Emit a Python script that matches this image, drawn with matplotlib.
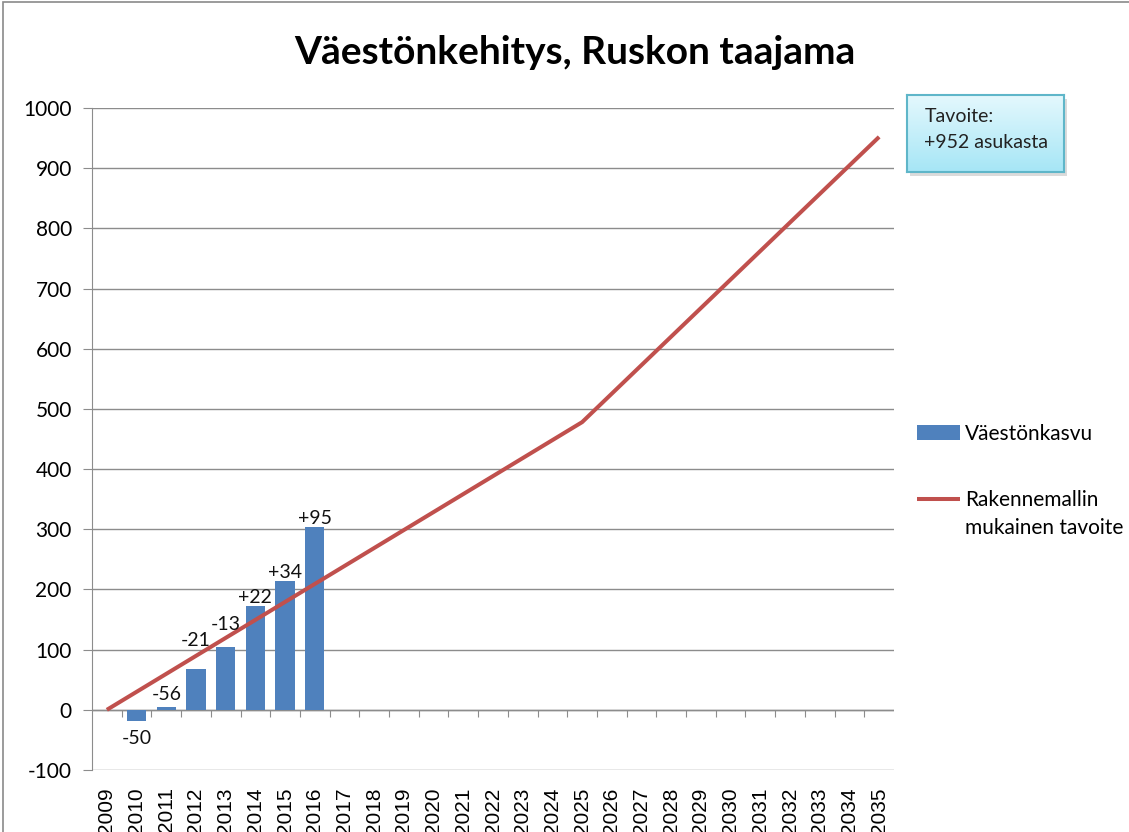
import numpy as np
import matplotlib
matplotlib.use("Agg")
import matplotlib.pyplot as plt
from matplotlib.patches import Rectangle
from matplotlib.colors import LinearSegmentedColormap

plt.rcParams['font.family'] = ['Lato', 'DejaVu Sans']

# ---------------- data ----------------
years = [str(y) for y in range(2009, 2036)]
bar_years = ['2010', '2011', '2012', '2013', '2014', '2015', '2016']
bar_values = [-18, 5, 68, 105, 172, 214, 304]
bar_labels = ['-50', '-56', '-21', '-13', '+22', '+34', '+95']
target_years = ['2009', '2025', '2035']
target_values = [0, 478, 952]
yticks = list(range(-100, 1001, 100))

title = 'Väestönkehitys, Ruskon taajama'
bar_name = 'Väestönkasvu'
line_name = 'Rakennemallin\nmukainen tavoite'
box_text = 'Tavoite:\n+952 asukasta'

# label offsets in points (layout only)
label_offsets = [-7, 3, 14, 10, 0, 0, 0]

W, H = 1129, 832
fig = plt.figure(figsize=(W / 100, H / 100), dpi=100)
fig.patch.set_facecolor('white')

# outer chart border
fig.patches.append(Rectangle((3 / W, -0.2), 2, 1.2 - 2 / H, transform=fig.transFigure,
                             fill=False, edgecolor='#8a8a8a', linewidth=1.2))

ax = fig.add_axes([92 / W, (H - 770) / H, (894 - 92) / W, (770 - 108) / H])
xpos = {y: i for i, y in enumerate(years)}

bx = [xpos[y] for y in bar_years]
bars = ax.bar(bx, bar_values, width=0.65, color='#4f81bd', zorder=3, label=bar_name)
lx = [xpos[y] for y in target_years]
line, = ax.plot(lx, target_values, color='#c0504d', linewidth=2.9, zorder=4, label=line_name,
                solid_capstyle='butt')

for x, v, lab, off in zip(bx, bar_values, bar_labels, label_offsets):
    va = 'top' if off < 0 else 'bottom'
    ax.annotate(lab, (x, v), xytext=(0, off), textcoords='offset points',
                ha='center', va=va, fontsize=14, color='#111111', zorder=5)

ax.set_xlim(-0.5, len(years) - 0.5)
ax.set_ylim(-100, 1000)
ax.set_yticks(yticks)
ax.set_yticklabels([str(t) for t in yticks])
ax.yaxis.grid(True, color='#8c8c8c', linewidth=1.0, zorder=0)
ax.set_axisbelow(True)
ax.axhline(0, color='#8c8c8c', linewidth=1.0, zorder=2)

ax.set_xticks(range(len(years)))
ax.set_xticklabels(years, rotation=90, fontsize=15, va='top',
                   family=['Liberation Sans', 'DejaVu Sans'])
ax.tick_params(axis='x', length=0, pad=12.5)
ax.tick_params(axis='y', labelsize=15, length=6.5, direction='out', color='#8c8c8c', pad=8)

for s in ['top', 'right', 'bottom']:
    ax.spines[s].set_visible(False)
ax.spines['left'].set_color('#8c8c8c')

# tick marks on the zero line between categories
sec = ax.secondary_xaxis(0, transform=ax.transData)
sec.set_xticks(np.arange(0.5, len(years) - 0.5, 1.0))
sec.set_xticklabels([])
sec.tick_params(length=5, direction='out', color='#8c8c8c')
sec.spines['bottom'].set_visible(False)

fig.text(575 / W, (H - 52) / H, title, fontsize=28, fontweight='bold',
         ha='center', va='center', color='black')

# legend: handle aligned with first line of the multi-line label (Excel style)
line_first, line_rest = line_name.split('\n', 1)
leg = fig.legend(handles=[bars, line], labels=[bar_name, line_first],
                 loc='upper left', bbox_to_anchor=(917 / W, (H - 424) / H),
                 frameon=False, fontsize=15, handlelength=2.07, handletextpad=0.22,
                 labelspacing=2.2, borderpad=0, borderaxespad=0)
fig.canvas.draw()
tb = leg.get_texts()[1].get_window_extent()
fig.text(tb.x0 / W, (tb.y0 - 28) / H, line_rest, fontsize=15, ha='left', va='bottom',
         color='black')

# text box with gradient
bax = fig.add_axes([907 / W, (H - 172) / H, (1064 - 907) / W, (172 - 95) / H], zorder=5)
grad = np.linspace(0, 1, 100).reshape(-1, 1)
cm = LinearSegmentedColormap.from_list('g', ['#e4f8fd', '#a6e6f6'])
bax.imshow(grad, aspect='auto', cmap=cm, extent=[0, 1, 0, 1], origin='upper')
bax.set_xticks([]); bax.set_yticks([])
for s in bax.spines.values():
    s.set_color('#5fb6c9'); s.set_linewidth(1.5)
bax.text(0.11, 0.55, box_text, transform=bax.transAxes, ha='left', va='center',
         fontsize=14, color='#222222', linespacing=1.6)
# shadow
fig.patches.append(Rectangle((910 / W, (H - 176) / H), (1064 - 907) / W, (172 - 95) / H,
                             transform=fig.transFigure, facecolor='#b8b8b8',
                             edgecolor='none', alpha=0.5, zorder=1))

fig.savefig('out.png', dpi=100)
